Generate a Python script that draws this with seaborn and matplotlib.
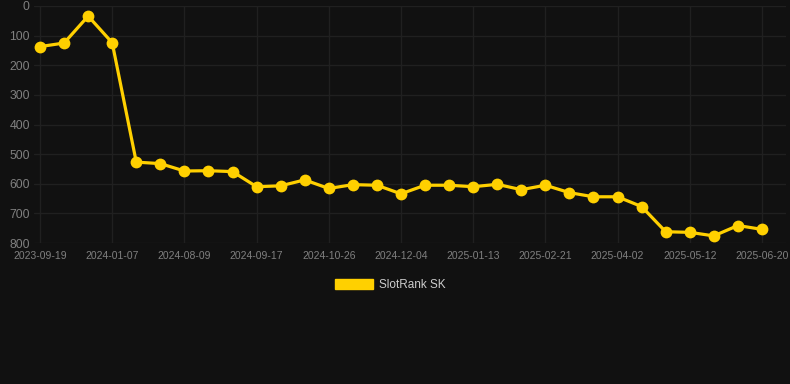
import matplotlib
matplotlib.use("Agg")
import matplotlib.pyplot as plt
import matplotlib.patches as mpatches
import seaborn as sns
import pandas as pd
import numpy as np

tick_labels = ["2023-09-19", "2024-01-07", "2024-08-09", "2024-09-17", "2024-10-26",
               "2024-12-04", "2025-01-13", "2025-02-21", "2025-04-02", "2025-05-12",
               "2025-06-20"]
ranks = [137, 125, 34, 124, 527, 532, 557, 556, 559, 610, 607, 587, 616, 603, 605,
         634, 605, 605, 610, 602, 620, 605, 630, 644, 644, 677, 762, 764, 776, 741, 754]
series_name = "SlotRank SK"

bg = "#111111"
gold = "#FFD000"
grid_c = "#202020"
txt = "#808080"

sns.set_theme(style="dark")
plt.rcParams['font.family'] = ['Liberation Sans', 'DejaVu Sans']

df = pd.DataFrame({"idx": np.arange(len(ranks)), "rank": ranks})

fig = plt.figure(figsize=(7.9, 3.84), dpi=100, facecolor=bg)
ax = fig.add_axes([34/790, 1-243/384, (786-34)/790, (243-6)/384])
ax.set_facecolor(bg)

sns.lineplot(data=df, x="idx", y="rank", ax=ax, color=gold, linewidth=2.3,
             marker="o", markersize=8.5, markeredgewidth=0, legend=False)

ax.set_ylim(800, 0)
ax.set_xlim(-0.25, 31.0)
ax.set_yticks(np.arange(0, 801, 100))
ax.set_xticks(np.arange(0, len(ranks), 3))
ax.set_xticklabels(tick_labels)
ax.set_xlabel("")
ax.set_ylabel("")
ax.grid(True, color=grid_c, linewidth=1.0)
for s in ax.spines.values():
    s.set_visible(False)
ax.tick_params(axis="y", colors=txt, labelsize=8.8, length=0, pad=3)
ax.tick_params(axis="x", colors=txt, labelsize=7.5, length=4, color="#1c1c1c", pad=2)

handle = mpatches.Patch(color=gold, label=series_name)
leg = fig.legend(handles=[handle], loc="center", bbox_to_anchor=(390/790, 1-285/384),
                 frameon=False, fontsize=8.5, handlelength=3.2, handleheight=0.9,
                 handletextpad=0.5)
for t in leg.get_texts():
    t.set_color("#cccccc")

fig.savefig("out.png", dpi=100, facecolor=bg)
